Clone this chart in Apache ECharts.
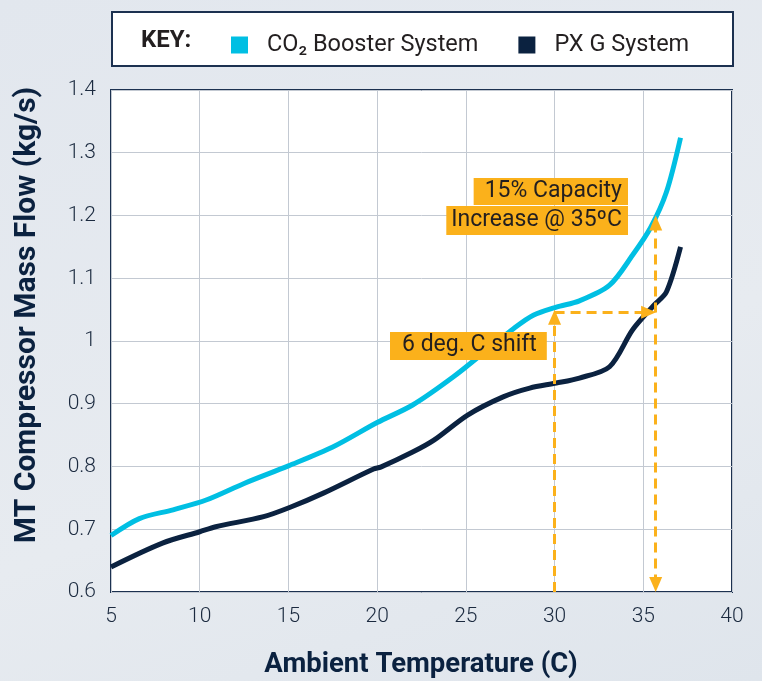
<!DOCTYPE html>
<html>
<head>
<meta charset="utf-8">
<script src="https://cdn.jsdelivr.net/npm/echarts@6/dist/echarts.min.js"></script>
<style>
  html, body { margin: 0; padding: 0; }
  body { background: linear-gradient(160deg, #e2e7ee 0%, #e7ebf0 60%, #dfe5ec 100%); }
  #chart { width: 762px; height: 681px; }
</style>
</head>
<body>
<div id="chart"></div>
<script>
// ---- Data ----
const seriesNames = ['CO\u2082 Booster System', 'PX G System'];
const xTitle = 'Ambient Temperature (C)';
const yTitle = 'MT Compressor Mass Flow (kg/s)';

const co2Temp = [5, 6.6, 8.5, 10.4, 12.5, 15, 17.5, 20, 22, 24.3, 26.2, 27.7, 28.8, 30.1, 31.4, 33.1, 34.4, 35.4, 36.3, 37.1];
const co2Flow = [0.69, 0.717, 0.731, 0.747, 0.773, 0.801, 0.831, 0.870, 0.898, 0.943, 0.986, 1.020, 1.041, 1.054, 1.064, 1.089, 1.137, 1.180, 1.237, 1.324];

const pxgTemp = [5, 7.9, 10, 10.9, 13.6, 15.1, 17, 19.8, 20.2, 22, 23.2, 25.1, 27.1, 28.6, 30.1, 31.4, 33.1, 34.4, 35.6, 36.3, 37.1];
const pxgFlow = [0.64, 0.678, 0.696, 0.704, 0.72, 0.735, 0.758, 0.796, 0.799, 0.823, 0.842, 0.882, 0.911, 0.925, 0.933, 0.941, 0.959, 1.018, 1.057, 1.078, 1.15];

// annotation arrows [temp, flow] (arrow-head centres where a head is drawn)
const leftArrowBase = [30, 0.6];
const leftArrowHead = [30, 1.038];
const shiftStart = [30, 1.046];
const shiftHead = [35.3, 1.046];
const rightArrowBottomHead = [35.7, 0.612];
const rightArrowTopHead = [35.7, 1.188];

const capacityLines = ['15% Capacity', 'Increase @ 35\u00BAC'];
const shiftLabel = '6 deg. C shift';
const keyLabel = 'KEY:';

const xTicks = { min: 5, max: 40, interval: 5 };
const yTicks = { min: 0.6, max: 1.4, interval: 0.1 };

// ---- Styles ----
const CYAN = '#00bfe3';
const NAVY = '#0b2240';
const ORANGE = '#fbb11b';
const TEXT = '#231f20';
const FONT = 'Roboto, "Noto Sans", sans-serif';

function zip(a, b) { return a.map((v, i) => [v, b[i]]); }

const chart = echarts.init(document.getElementById('chart'), null, { renderer: 'canvas' });

const arrowLine = { color: ORANGE, width: 3, type: [10, 6] };
const HEAD = [13, 15];

chart.setOption({
  backgroundColor: 'transparent',
  animation: false,
  grid: {
    left: 111, right: 30, top: 90, bottom: 89,
    show: true, backgroundColor: '#ffffff', borderColor: '#1c3150', borderWidth: 2
  },
  legend: {
    data: seriesNames,
    left: 226, top: 28,
    icon: 'rect', itemWidth: 17, itemHeight: 17, itemGap: 40,
    textStyle: { fontFamily: FONT, fontSize: 23.5, color: TEXT, padding: [0, 0, 0, 14] },
    selectedMode: false
  },
  xAxis: {
    type: 'value', min: xTicks.min, max: xTicks.max, interval: xTicks.interval,
    axisLine: { show: false }, axisTick: { show: false },
    axisLabel: { fontFamily: FONT, fontSize: 21, fontWeight: 300, color: '#1b2a3f', margin: 14 },
    splitLine: { lineStyle: { color: '#c3c9d2', width: 1 } }
  },
  yAxis: {
    type: 'value', min: yTicks.min, max: yTicks.max, interval: yTicks.interval,
    axisLine: { show: false }, axisTick: { show: false },
    axisLabel: { fontFamily: FONT, fontSize: 21, fontWeight: 300, color: '#1b2a3f', margin: 15,
      formatter: v => String(+v.toFixed(1)) },
    splitLine: { lineStyle: { color: '#c3c9d2', width: 1 } }
  },
  graphic: [
    { type: 'rect', left: 111, top: 11, shape: { width: 621, height: 54 },
      style: { fill: '#ffffff', stroke: '#1c3150', lineWidth: 2 }, z: -1 },
    { type: 'text', x: 141, y: 41,
      style: { text: keyLabel, fontFamily: FONT, fontSize: 24, fontWeight: 'bold', fill: TEXT,
        align: 'left', verticalAlign: 'middle' } },
    { type: 'text', x: 421, y: 665,
      style: { text: xTitle, fontFamily: FONT, fontSize: 27.5, fontWeight: 'bold', fill: NAVY,
        align: 'center', verticalAlign: 'middle' } },
    { type: 'text', x: 27, y: 315, rotation: Math.PI / 2,
      style: { text: yTitle, fontFamily: FONT, fontSize: 30, fontWeight: 'bold', fill: NAVY,
        align: 'center', verticalAlign: 'middle' } },
    { type: 'text', right: 762 - 628, top: 178,
      style: { text: capacityLines[0], fontFamily: FONT, fontSize: 23, fill: TEXT,
        backgroundColor: ORANGE, padding: [2, 6, 2, 11], lineHeight: 23 }, z: 10 },
    { type: 'text', right: 762 - 628, top: 206,
      style: { text: capacityLines[1], fontFamily: FONT, fontSize: 23, fill: TEXT,
        backgroundColor: ORANGE, padding: [3, 6, 3, 5], lineHeight: 23 }, z: 10 },
    { type: 'text', left: 390, top: 332,
      style: { text: shiftLabel, fontFamily: FONT, fontSize: 23, fill: TEXT,
        backgroundColor: ORANGE, padding: [2, 10, 3, 12], lineHeight: 23 }, z: 10 }
  ],
  series: [
    {
      name: seriesNames[0], type: 'line', data: zip(co2Temp, co2Flow),
      smooth: 0.3, showSymbol: false, symbol: 'none',
      lineStyle: { color: CYAN, width: 5 }, itemStyle: { color: CYAN }, z: 3
    },
    {
      name: seriesNames[1], type: 'line', data: zip(pxgTemp, pxgFlow),
      smooth: 0.3, showSymbol: false, symbol: 'none',
      lineStyle: { color: NAVY, width: 5 }, itemStyle: { color: NAVY }, z: 3,
      markLine: {
        silent: true, animation: false,
        symbolSize: HEAD,
        label: { show: false },
        lineStyle: arrowLine,
        emphasis: { disabled: true },
        data: [
          [{ coord: leftArrowBase, symbol: 'none' }, { coord: leftArrowHead, symbol: 'triangle' }],
          [{ coord: shiftStart, symbol: 'none' }, { coord: shiftHead, symbol: 'triangle' }],
          [{ coord: rightArrowBottomHead, symbol: 'triangle' }, { coord: rightArrowTopHead, symbol: 'triangle' }]
        ]
      }
    }
  ]
});
</script>
</body>
</html>
